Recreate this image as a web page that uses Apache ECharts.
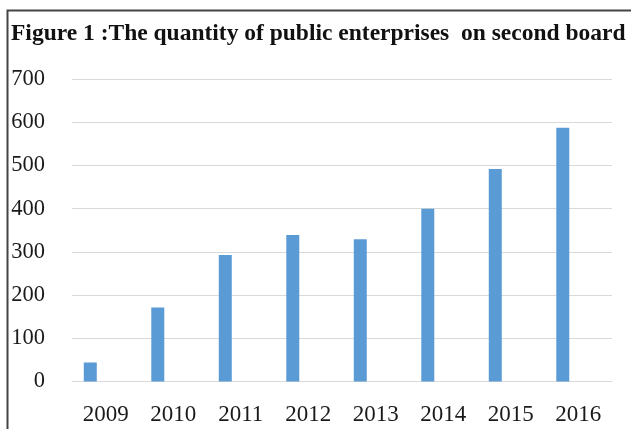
<!DOCTYPE html>
<html>
<head>
<meta charset="utf-8">
<script src="https://cdn.jsdelivr.net/npm/echarts@6/dist/echarts.min.js"></script>
<style>
html,body{margin:0;padding:0;background:#fff;}
#main{width:631px;height:429px;}
</style>
</head>
<body>
<div id="main"></div>
<script>
var titleText = "Figure 1 :The quantity of public enterprises  on second board";
var categories = ["2009", "2010", "2011", "2012", "2013", "2014", "2015", "2016"];
var quantity = [44, 171, 293, 339, 329, 400, 492, 587];
var emptySeries = [null, null, null, null, null, null, null, null];
var yTicks = [0, 700, 100];

var chart = echarts.init(document.getElementById('main'), null, {renderer: 'canvas'});
var font = '"Liberation Serif", "Times New Roman", serif';
chart.setOption({
  animation: false,
  backgroundColor: '#ffffff',
  title: {
    text: titleText,
    left: 11,
    top: 21.5,
    padding: 0,
    textStyle: {fontFamily: font, fontWeight: 'bold', fontSize: 23.5, color: '#111'}
  },
  graphic: [{
    type: 'rect',
    shape: {x: 7.5, y: 10.5, width: 640, height: 440},
    style: {fill: 'none', stroke: '#444', lineWidth: 2},
    silent: true
  }],
  grid: {left: 72, right: 19, top: 79, bottom: 47.5},
  xAxis: {
    type: 'category',
    data: categories,
    axisLine: {show: true, lineStyle: {color: '#d9d9d9', width: 1}},
    axisTick: {show: false},
    axisLabel: {margin: 22, fontFamily: font, fontSize: 23, color: '#1a1a1a'}
  },
  yAxis: {
    type: 'value',
    min: yTicks[0], max: yTicks[1], interval: yTicks[2],
    axisLine: {show: false},
    axisTick: {show: false},
    splitLine: {lineStyle: {color: '#d9d9d9', width: 1}},
    axisLabel: {margin: 27, fontFamily: font, fontSize: 22.5, color: '#1a1a1a'}
  },
  series: [{
    type: 'bar',
    data: quantity,
    barWidth: 13,
    barGap: '138%',
    itemStyle: {color: '#5b9bd5'}
  }, {
    type: 'bar',
    data: emptySeries,
    barWidth: 13,
    itemStyle: {color: '#ed7d31'}
  }]
});
</script>
</body>
</html>
